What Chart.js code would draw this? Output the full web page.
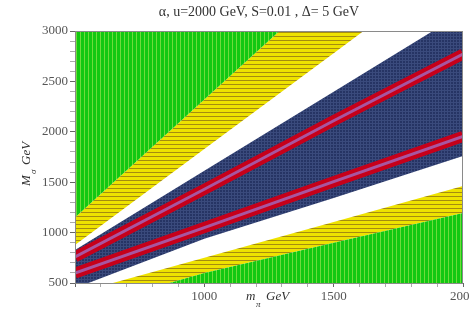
<!DOCTYPE html>
<html>
<head>
<meta charset="utf-8">
<script src="https://cdn.jsdelivr.net/npm/chart.js@4"></script>
<style>
  html, body { margin: 0; padding: 0; background: #fff; }
  #wrap { width: 470px; height: 321px; }
</style>
</head>
<body>
<div id="wrap"><canvas id="plot"></canvas></div>
<script>
var mVals = [500, 1000, 1500, 2000];

// band edges, M_sigma (GeV) at each m_pi above
var greenTop     = [1150, 2320, 3490, 4660];
var yellowTop    = [877, 1830, 2780, 3730];
var navyTop      = [828, 1613, 2398, 3183];
var redUpper     = [758, 1430, 2110, 2770];
var redLower     = [599, 1050, 1505, 1955];
var navyBottom   = [449, 940, 1343, 1760];
var yellowBottom = [396, 751, 1106, 1462];
var greenBottom  = [230, 600, 900, 1195];

var xTicks = [1000, 1500, 2000];
var yTicks = [500, 1000, 1500, 2000, 2500, 3000];
var titleText = "\u03b1, u=2000 GeV, S=0.01 , \u0394= 5 GeV";

function makePattern(w, h, base, lineColor, dir) {
    var c = document.createElement("canvas");
    c.width = w; c.height = h;
    var g = c.getContext("2d");
    g.fillStyle = base;
    g.fillRect(0, 0, w, h);
    g.fillStyle = lineColor;
    if (dir == "v" || dir == "grid") g.fillRect(0, 0, 1, h);
    if (dir == "h" || dir == "grid") g.fillRect(0, 0, w, 1);
    return g.createPattern(c, "repeat");
}

var greenPat = makePattern(4, 1, "rgb(18,200,18)", "rgb(110,220,60)", "v");
var yellowPat = makePattern(1, 4, "rgb(238,226,0)", "rgb(165,140,15)", "h");
var navyPat = makePattern(3, 3, "rgb(38,52,100)", "rgb(58,74,124)", "grid");

function pts(arr) {
    var out = [];
    for (var i = 0; i < mVals.length; i++) out.push({x: mVals[i], y: arr[i]});
    return out;
}

function edge(arr, fill, bg) {
    return {
        data: pts(arr), borderWidth: 0, borderColor: "rgba(0,0,0,0)",
        pointRadius: 0, tension: 0, fill: fill, backgroundColor: bg, clip: 0
    };
}

function stroke(arr, color, w) {
    return {
        data: pts(arr), borderWidth: w, borderColor: color,
        pointRadius: 0, tension: 0, fill: false, clip: 0
    };
}

var datasets = [
    stroke(redUpper, "rgb(168,86,160)", 3),
    stroke(redLower, "rgb(168,86,160)", 3),
    stroke(redUpper, "rgb(198,0,26)", 11),
    stroke(redLower, "rgb(198,0,26)", 11),
    edge(navyTop, 5, navyPat),
    edge(navyBottom, false, "rgba(0,0,0,0)"),
    edge(greenTop, "end", greenPat),
    edge(yellowTop, 6, yellowPat),
    edge(greenBottom, "start", greenPat),
    edge(yellowBottom, 8, yellowPat)
];

var serif = "'Liberation Serif', 'DejaVu Serif', serif";

var textPlugin = {
    id: "texts",
    afterDraw: function(chart) {
        var ctx = chart.ctx, a = chart.chartArea;
        ctx.save();
        ctx.strokeStyle = "#8a8a8a";
        ctx.lineWidth = 1;
        ctx.strokeRect(a.left + 0.5, a.top + 0.5, a.right - a.left - 1, a.bottom - a.top);
        ctx.fillStyle = "#333";
        ctx.textBaseline = "alphabetic";
        ctx.textAlign = "center";
        ctx.font = "14px " + serif;
        ctx.fillText(titleText, 259, 16);

        // x axis title
        ctx.textAlign = "left";
        ctx.font = "italic 13px " + serif;
        ctx.fillText("m", 246, 300);
        ctx.font = "italic 9px " + serif;
        ctx.fillText("\u03c0", 256, 307);
        ctx.font = "italic 13px " + serif;
        ctx.fillText("GeV", 266, 300);

        // y axis title
        ctx.translate(30, 160);
        ctx.rotate(-Math.PI / 2);
        ctx.textAlign = "left";
        ctx.font = "italic 13px " + serif;
        ctx.fillText("M", -26, 0);
        ctx.font = "italic 9px " + serif;
        ctx.fillText("\u03c3", -14, 6);
        ctx.font = "italic 13px " + serif;
        ctx.fillText("GeV", -5, 0);
        ctx.restore();
    }
};

function isMajor(v, list) { return list.indexOf(v) >= 0; }

new Chart(document.getElementById("plot"), {
    type: "line",
    data: { datasets: datasets },
    options: {
        responsive: true,
        maintainAspectRatio: false,
        animation: false,
        layout: { padding: { top: 31, right: 7, left: 0, bottom: 0 } },
        plugins: { legend: { display: false }, tooltip: { enabled: false }, title: { display: false } },
        scales: {
            x: {
                type: "linear", min: 500, max: 2000,
                border: { display: false },
                grid: {
                    drawOnChartArea: false, drawTicks: true, tickLength: 4,
                    tickColor: function(c) { return c.tick.value % 500 == 0 ? "#666" : "#aaa"; }
                },
                ticks: {
                    stepSize: 100, autoSkip: false, maxRotation: 0, padding: 2,
                    color: "#555", font: { family: serif, size: 13 },
                    callback: function(v) { return isMajor(v, xTicks) ? String(v) : ""; }
                },
                afterFit: function(s) { s.height = 38; s.paddingLeft = 0; s.paddingRight = 0; }
            },
            y: {
                type: "linear", min: 500, max: 3000,
                border: { display: false },
                grid: {
                    drawOnChartArea: false, drawTicks: true, tickLength: 5,
                    tickColor: function(c) { return c.tick.value % 500 == 0 ? "#666" : "#aaa"; }
                },
                ticks: {
                    stepSize: 100, autoSkip: false, padding: 2,
                    color: "#555", font: { family: serif, size: 13 },
                    callback: function(v) { return isMajor(v, yTicks) ? String(v) : ""; }
                },
                afterFit: function(s) { s.width = 75; s.paddingTop = 0; s.paddingBottom = 0; }
            }
        }
    },
    plugins: [textPlugin]
});
</script>
</body>
</html>
